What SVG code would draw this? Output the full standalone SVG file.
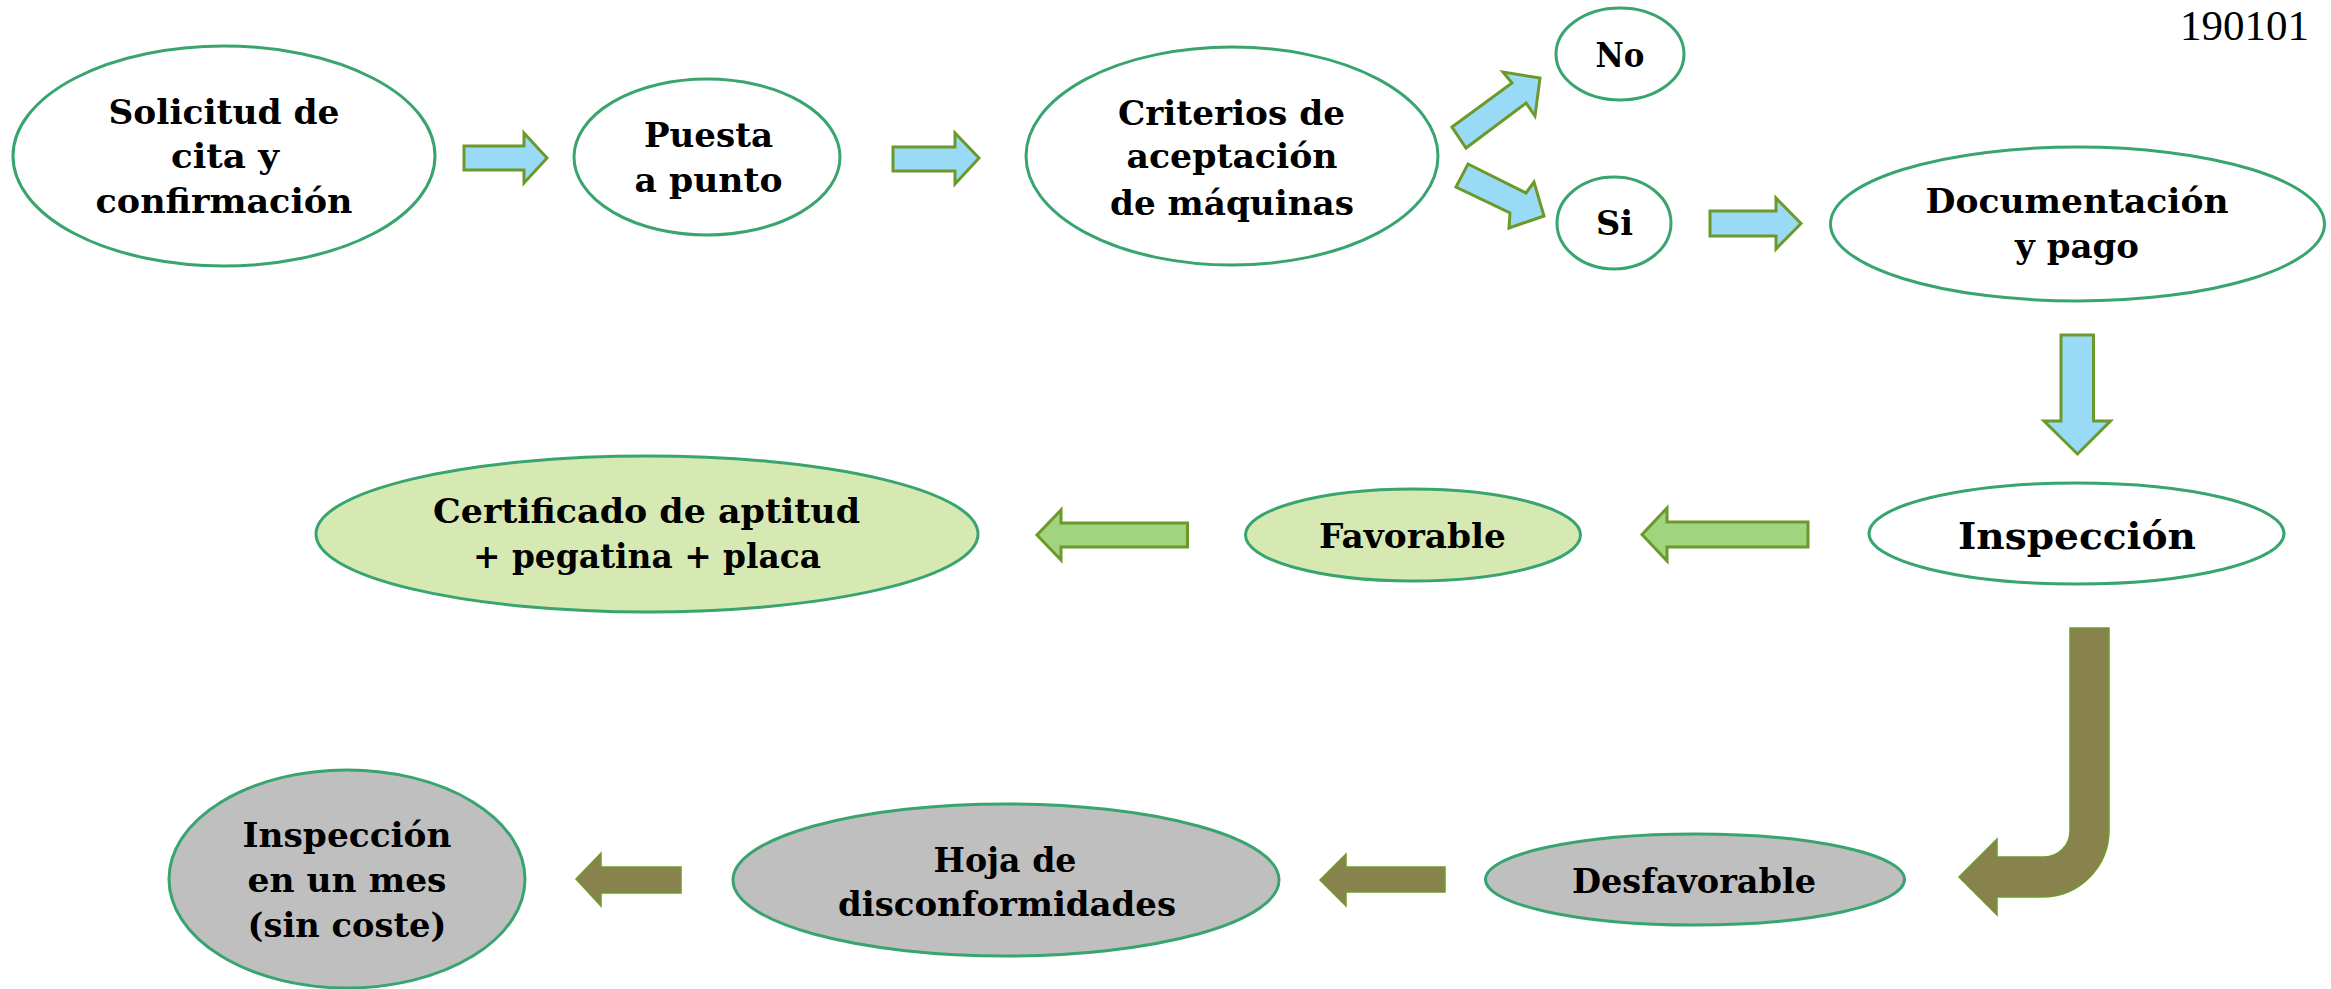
<svg xmlns="http://www.w3.org/2000/svg" width="2331" height="989" viewBox="0 0 2331 989">
<style>
.n{stroke:#38A46E;stroke-width:3}
.w{fill:#FFFFFF}
.g{fill:#D7E9B2}
.s{fill:#BFBFBF}
.t{font-family:"DejaVu Serif","Liberation Serif",serif;font-weight:bold;font-size:33px;fill:#000;text-anchor:middle}
.big{font-size:37px}
.ab{fill:#99DAF6;stroke:#6B9A2A;stroke-width:3;stroke-linejoin:miter}
.ag{fill:#A0D47E;stroke:#6B9A2A;stroke-width:3}
.ao{fill:#88834D;stroke:#6E9A2E;stroke-width:1.5}
.num{font-family:"Liberation Serif",serif;font-size:43px;fill:#000;text-anchor:end}
</style>
<rect width="2331" height="989" fill="#FFFFFF"/>
<text class="num" x="2309" y="40">190101</text>

<g id="connectors">
<polygon class="ab" points="464,146 524,146 524,133 547,158 524,183 524,170 464,170"/>
<polygon class="ab" points="893,147 955,147 955,133 979,158 955,184 955,171 893,171"/>
<polygon class="ab" points="1452,127 1512,83 1503,72 1540,78 1535,116 1526,103 1466,148"/>
<polygon class="ab" points="1468,164 1526,193 1534,182 1544,216 1509,228 1510,213 1456,187"/>
<polygon class="ab" points="1710,211 1776,211 1776,198 1801,223.5 1776,249 1776,236 1710,236"/>
<polygon class="ab" points="2061,335 2093.5,335 2093.5,421 2110.5,421 2077.5,454 2044,421 2061,421"/>
<polygon class="ag" points="1808,522 1667,522 1667,508 1642,534.5 1667,561 1667,547 1808,547"/>
<polygon class="ag" points="1187.5,523 1061,523 1061,510 1037,535 1061,560 1061,547 1187.5,547"/>
<path class="ao" d="M2070,628 L2109,628 L2109,830 A67,67 0 0 1 2042,897 L1997,897 L1997,915 L1959,877 L1997,839 L1997,857 L2044,857 A26,26 0 0 0 2070,831 Z"/>
<polygon class="ao" points="1445,867 1346,867 1346,854 1320,880 1346,906 1346,892 1445,892"/>
<polygon class="ao" points="681,867 601,867 601,853 576,879 601,906 601,893 681,893"/>
</g>

<g id="n-solicitud">
<ellipse class="n w" cx="224" cy="156" rx="211" ry="110"/>
<text class="t" x="224" y="124" textLength="231" lengthAdjust="spacingAndGlyphs">Solicitud de</text>
<text class="t" x="225" y="168" textLength="108" lengthAdjust="spacingAndGlyphs">cita y</text>
<text class="t" x="224" y="213" textLength="257" lengthAdjust="spacingAndGlyphs">confirmación</text>
</g>
<g id="n-puesta">
<ellipse class="n w" cx="707" cy="157" rx="133" ry="78"/>
<text class="t" x="708.5" y="147" textLength="129" lengthAdjust="spacingAndGlyphs">Puesta</text>
<text class="t" x="708.5" y="192" textLength="148" lengthAdjust="spacingAndGlyphs">a punto</text>
</g>
<g id="n-criterios">
<ellipse class="n w" cx="1232" cy="156" rx="206" ry="109"/>
<text class="t" x="1231.5" y="125" textLength="227" lengthAdjust="spacingAndGlyphs">Criterios de</text>
<text class="t" x="1232" y="168" textLength="211" lengthAdjust="spacingAndGlyphs">aceptación</text>
<text class="t" x="1232" y="215" textLength="244" lengthAdjust="spacingAndGlyphs">de máquinas</text>
</g>
<g id="n-no">
<ellipse class="n w" cx="1620" cy="54" rx="64" ry="46"/>
<text class="t" x="1620" y="67" textLength="49" lengthAdjust="spacingAndGlyphs">No</text>
</g>
<g id="n-si">
<ellipse class="n w" cx="1614" cy="223" rx="57" ry="46"/>
<text class="t" x="1614.5" y="235" textLength="37" lengthAdjust="spacingAndGlyphs">Si</text>
</g>
<g id="n-documentacion">
<ellipse class="n w" cx="2077.5" cy="224" rx="247" ry="77"/>
<text class="t" x="2077" y="213" textLength="303" lengthAdjust="spacingAndGlyphs">Documentación</text>
<text class="t" x="2077" y="258" textLength="124" lengthAdjust="spacingAndGlyphs">y pago</text>
</g>
<g id="n-inspeccion">
<ellipse class="n w" cx="2076.5" cy="533.5" rx="207.5" ry="50.5"/>
<text class="t big" x="2077" y="549" textLength="238" lengthAdjust="spacingAndGlyphs">Inspección</text>
</g>
<g id="n-favorable">
<ellipse class="n g" cx="1413" cy="535" rx="167.5" ry="46"/>
<text class="t" x="1412.5" y="548" textLength="187" lengthAdjust="spacingAndGlyphs">Favorable</text>
</g>
<g id="n-certificado">
<ellipse class="n g" cx="647" cy="534" rx="331" ry="78"/>
<text class="t" x="646.5" y="523" textLength="427" lengthAdjust="spacingAndGlyphs">Certificado de aptitud</text>
<text class="t" x="647" y="568" textLength="348" lengthAdjust="spacingAndGlyphs">+ pegatina + placa</text>
</g>
<g id="n-desfavorable">
<ellipse class="n s" cx="1695" cy="879.5" rx="209.5" ry="45.5"/>
<text class="t" x="1694" y="893" textLength="244" lengthAdjust="spacingAndGlyphs">Desfavorable</text>
</g>
<g id="n-hoja">
<ellipse class="n s" cx="1006" cy="880" rx="273" ry="76"/>
<text class="t" x="1005" y="872" textLength="143" lengthAdjust="spacingAndGlyphs">Hoja de</text>
<text class="t" x="1007" y="916" textLength="338" lengthAdjust="spacingAndGlyphs">disconformidades</text>
</g>
<g id="n-inspeccion-mes">
<ellipse class="n s" cx="347" cy="879" rx="178" ry="109"/>
<text class="t" x="347" y="847" textLength="209" lengthAdjust="spacingAndGlyphs">Inspección</text>
<text class="t" x="347" y="892" textLength="199" lengthAdjust="spacingAndGlyphs">en un mes</text>
<text class="t" x="347" y="937" textLength="199" lengthAdjust="spacingAndGlyphs">(sin coste)</text>
</g>
</svg>
